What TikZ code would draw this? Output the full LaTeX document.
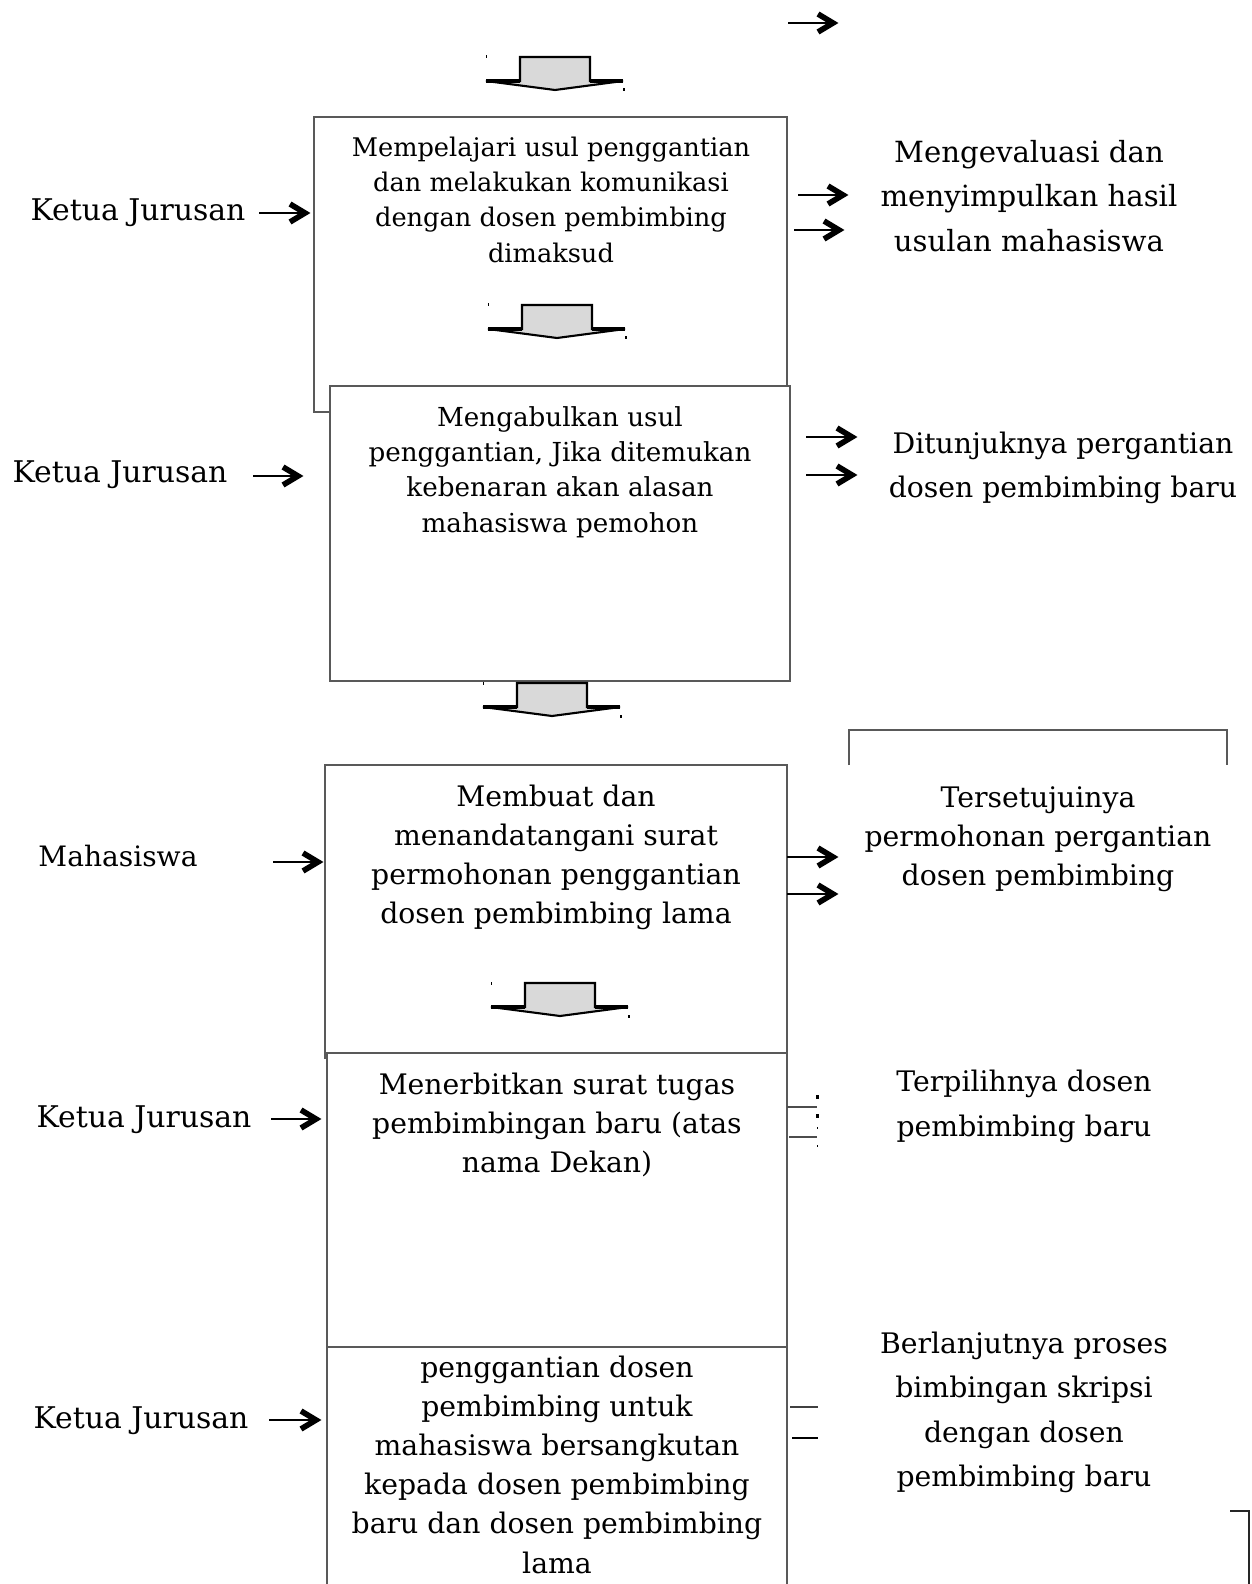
\documentclass[tikz,border=0pt]{standalone}
\usepackage{fontspec}
\setmainfont{DejaVu Serif}
\usetikzlibrary{fit}
\tikzset{
  boxline/.style={draw=black!65, line width=0.8pt},
  thinln/.style={draw=black, line width=0.6pt},
  chevln/.style={draw=black, line width=3.2pt, line join=miter, line cap=butt},
  txt/.style={inner sep=0pt, align=center, text=black},
  fA/.style={font=\fontsize{14.9}{20.1}\selectfont},
  fAa/.style={font=\fontsize{14.6}{20.1}\selectfont},
  fB/.style={font=\fontsize{16.1}{22.3}\selectfont},
  fR/.style={font=\fontsize{16.1}{25.3}\selectfont},
  fRa/.style={font=\fontsize{16.6}{25.3}\selectfont},
  fL/.style={font=\fontsize{17}{20}\selectfont},
  blk/.style={fill=black!15, draw=black, line width=1.2pt, line join=miter},
}
\newcommand\blkarrow[2]{%
  \draw[blk] ({#1-35},#2) -- ({#1+35},#2) -- ({#1+35},{#2+24}) -- ({#1+68},{#2+24})
     -- (#1,{#2+33}) -- ({#1-69},{#2+24}) -- ({#1-35},{#2+24}) -- cycle;
  \draw[line width=2.4pt] ({#1-69},{#2+24}) -- ({#1-35},{#2+24});
  \draw[line width=2.4pt] ({#1+35},{#2+24}) -- ({#1+68},{#2+24});
  \fill ({#1-69.5},{#2-1.5}) rectangle ({#1-68},{#2+1.5});
  \fill ({#1+68},{#2+31.5}) rectangle ({#1+69.5},{#2+34.5});
}
% chevron arrow: name, x start, x tip, y
\newcommand\chevarrow[4]{%
  \coordinate (#1s) at (#2,#4);
  \coordinate (#1e) at ({#3-5},#4);
  \draw[thinln] (#1s) -- (#1e);
  \draw[chevln] ({#3-5-15},{#4-9}) -- (#1e) -- ({#3-5-15},{#4+9});
}
\begin{document}
\begin{tikzpicture}[x=0.02cm,y=-0.02cm]
\useasboundingbox[fill=white] (0,0) rectangle (1251,1584);

% ---------- boxes ----------
\node[boxline, fill=white, inner sep=0pt, fit={(314,117)(787,412)}] (b1) {};
\node[boxline, fill=white, inner sep=0pt, fit={(330,386)(790,681)}] (b2) {};
\node[boxline, fill=white, inner sep=0pt, fit={(325,765)(787,1058)}] (b3) {};
\node[boxline, fill=white, inner sep=0pt, fit={(327,1053)(787,1347)}] (b4) {};
\coordinate (b5a) at (327,1584);
\coordinate (b5b) at (327,1347);
\coordinate (b5c) at (787,1347);
\coordinate (b5d) at (787,1584);
\draw[boxline] (b5a) -- (b5b) -- (b5c) -- (b5d);

% bracket top right and corner bottom right
\coordinate (k1) at (849,765); \coordinate (k2) at (849,730);
\coordinate (k3) at (1227,730); \coordinate (k4) at (1227,765);
\draw[boxline] (k1) -- (k2) -- (k3) -- (k4);
\coordinate (c1) at (1230,1511); \coordinate (c2) at (1249,1511); \coordinate (c3) at (1249,1584);
\draw[draw=black!85, line width=0.7pt] (c1) -- (c2) -- (c3);

% ---------- block arrows ----------
\blkarrow{555}{57}
\blkarrow{557}{305}
\blkarrow{552}{683}
\blkarrow{560}{983}

% ---------- chevron arrows ----------
\chevarrow{t0}{788}{838}{23}
\chevarrow{l1}{259}{310}{213}
\chevarrow{r1a}{798}{848}{195}
\chevarrow{r1b}{794}{844}{230}
\chevarrow{l2}{253}{303}{476}
\chevarrow{r2a}{806}{857}{437}
\chevarrow{r2b}{806}{857}{475}
\chevarrow{l3}{273}{323}{862}
\chevarrow{r3a}{787}{838}{857}
\chevarrow{r3b}{787}{838}{894}
\chevarrow{l4}{271}{321}{1119}
\chevarrow{l5}{269}{321}{1420}

% ---------- broken right arrows (plain lines) ----------
\coordinate (p1s) at (787,1107); \coordinate (p1e) at (817,1107);
\coordinate (p2s) at (789,1137); \coordinate (p2e) at (817,1137);
\draw[draw=black!70, line width=0.7pt] (p1s) -- (p1e);
\draw[draw=black!70, line width=0.7pt] (p2s) -- (p2e);
\fill (816,1095) rectangle (818.5,1099);
\fill (816,1114) rectangle (818.5,1118);
\fill (817,1127) rectangle (818,1129);
\fill (817,1145) rectangle (818,1147);
\coordinate (p3s) at (790,1407); \coordinate (p3e) at (818,1407);
\coordinate (p4s) at (792,1438); \coordinate (p4e) at (818,1438);
\draw[draw=black!75, line width=0.7pt] (p3s) -- (p3e);
\draw[draw=black, line width=0.7pt] (p4s) -- (p4e);

% ---------- texts ----------
\node[txt, fL] (L1) at (138,213) {Ketua Jurusan};
\node[txt, fAa] (T1) at (551,199.5) {Mempelajari usul penggantian\\dan melakukan komunikasi\\dengan dosen pembimbing\\dimaksud};
\node[txt, fRa] (R1) at (1029,196) {Mengevaluasi dan\\menyimpulkan hasil\\usulan mahasiswa};

\node[txt, fL] (L2) at (120,475) {Ketua Jurusan};
\node[txt, fA] (T2) at (560,472) {Mengabulkan usul\\penggantian, Jika ditemukan\\kebenaran akan alasan\\mahasiswa pemohon};
\node[txt, fR] (R2) at (1063,468) {Ditunjuknya pergantian\\dosen pembimbing baru};

\node[txt, font=\fontsize{16}{20}\selectfont] (L3) at (118,856) {Mahasiswa};
\node[txt, fB] (T3) at (556,857.5) {Membuat dan\\menandatangani surat\\permohonan penggantian\\dosen pembimbing lama};
\node[txt, fB] (R3) at (1038,839) {Tersetujuinya\\permohonan pergantian\\dosen pembimbing};

\node[txt, fL] (L4) at (144,1120) {Ketua Jurusan};
\node[txt, fB] (T4) at (557,1125) {Menerbitkan surat tugas\\pembimbingan baru (atas\\nama Dekan)};
\node[txt, fR] (R4) at (1024,1106.5) {Terpilihnya dosen\\pembimbing baru};

\node[txt, fL] (L5) at (141,1421) {Ketua Jurusan};
\node[txt, fB] (T5) at (557,1464.5) {penggantian dosen\\pembimbing untuk\\mahasiswa bersangkutan\\kepada dosen pembimbing\\baru dan dosen pembimbing\\lama};
\node[txt, fR] (R5) at (1024,1412.5) {Berlanjutnya proses\\bimbingan skripsi\\dengan dosen\\pembimbing baru};
\end{tikzpicture}
\end{document}
